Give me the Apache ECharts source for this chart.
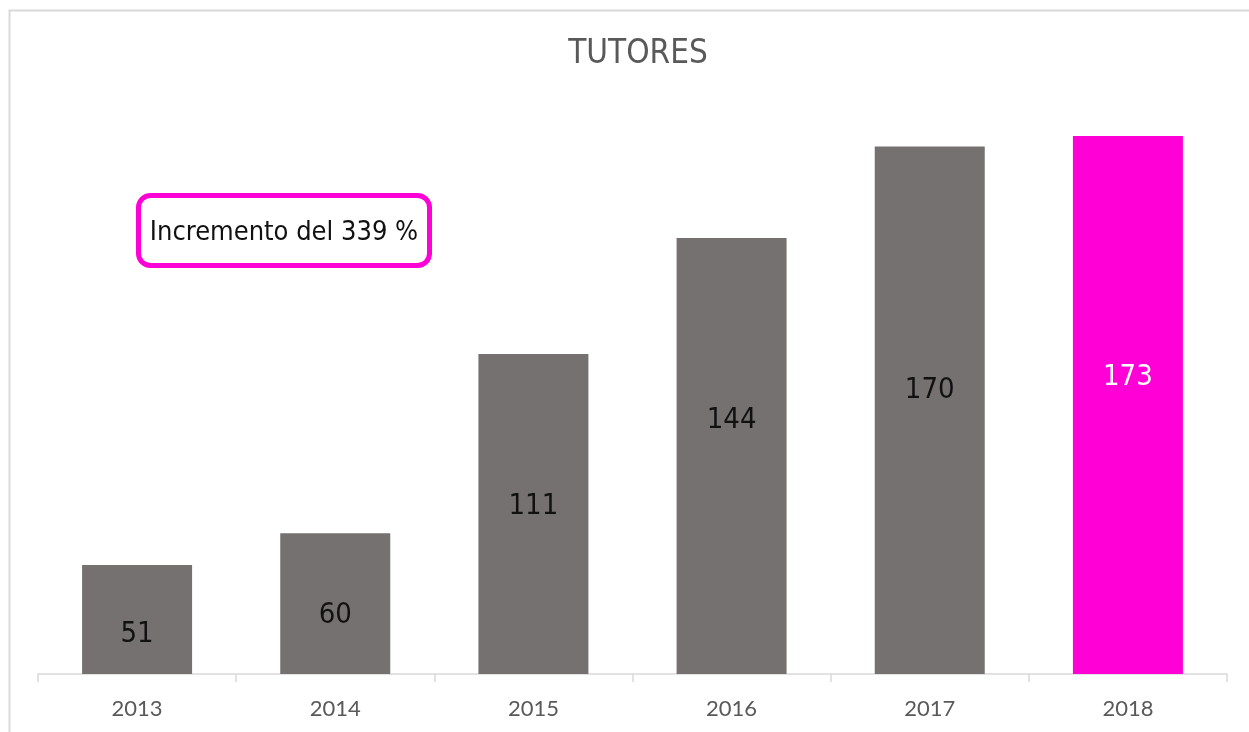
<!DOCTYPE html>
<html>
<head>
<meta charset="utf-8">
<script src="https://cdn.jsdelivr.net/npm/echarts@6/dist/echarts.min.js"></script>
<style>
  html, body { margin: 0; padding: 0; background: #fff; }
  #main { width: 1249px; height: 732px; }
</style>
</head>
<body>
<div id="main"></div>
<script>
// datos
const years = ['2013', '2014', '2015', '2016', '2017', '2018'];
const tutores = [51, 60, 111, 144, 170, 173];
const highlightYear = '2018';
const noteText = 'Incremento del 339 %';

// ajuste manual de las etiquetas (como en el original)
const labelShift = [15, 12, -8, -35, -20, -28];

const GRAY = '#767171';
const PINK = '#FF00D6';
const NARROW = '"Liberation Sans Narrow", "DejaVu Sans Condensed", sans-serif';

const myChart = echarts.init(document.getElementById('main'));

const seriesData = tutores.map((v, i) => {
  const hi = years[i] === highlightYear;
  return {
    value: v,
    itemStyle: { color: hi ? PINK : GRAY },
    label: { color: hi ? '#ffffff' : '#111111', offset: [0, labelShift[i]] }
  };
});

myChart.setOption({
  animation: false,
  backgroundColor: '#fff',
  title: {
    text: 'TUTORES',
    left: 633,
    top: 33,
    textAlign: 'center',
    textStyle: { fontFamily: NARROW, fontSize: 33, fontWeight: 'normal', color: '#595959' }
  },
  grid: { left: 38, right: 22, top: 41, bottom: 58 },
  xAxis: {
    type: 'category',
    data: years,
    axisLine: { lineStyle: { color: '#D9D9D9', width: 1.5 } },
    axisTick: { show: true, length: 8, lineStyle: { color: '#D9D9D9', width: 1.5 } },
    axisLabel: { margin: 24, fontFamily: 'Lato, "Open Sans", sans-serif', fontSize: 22, color: '#595959' }
  },
  yAxis: {
    type: 'value',
    min: 20,
    max: 200,
    show: false,
    splitLine: { show: false }
  },
  series: [{
    type: 'bar',
    data: seriesData,
    barWidth: 110,
    label: {
      show: true,
      position: 'inside',
      fontFamily: NARROW,
      fontSize: 29,
      fontWeight: 'normal'
    }
  }],
  graphic: [
    {
      type: 'rect',
      shape: { x: 9.5, y: 10.5, width: 1260, height: 760 },
      style: { fill: 'none', stroke: '#D9D9D9', lineWidth: 2 },
      silent: true
    },
    {
      type: 'rect',
      shape: { x: 138.5, y: 195.5, width: 291, height: 70, r: 12 },
      style: { fill: '#fff', stroke: PINK, lineWidth: 5 }
    },
    {
      type: 'text',
      x: 284,
      y: 233,
      style: {
        text: noteText,
        fontFamily: NARROW,
        fontSize: 27,
        fill: '#111111',
        align: 'center',
        verticalAlign: 'middle'
      }
    }
  ]
});
</script>
</body>
</html>
